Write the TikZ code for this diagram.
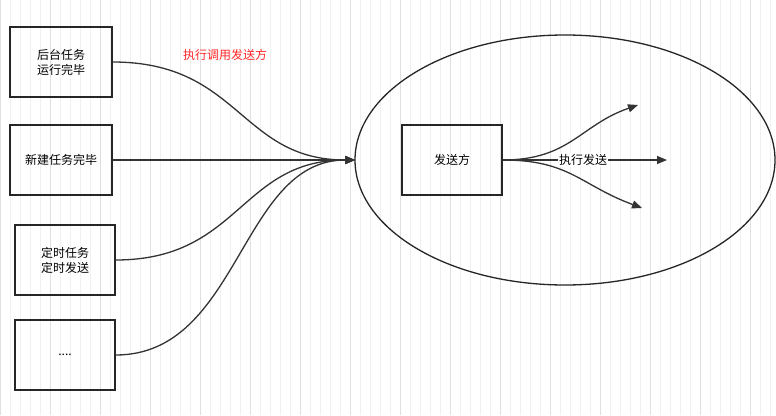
\documentclass[tikz,border=0pt]{standalone}
\usepackage{fontspec}
\setmainfont{Noto Sans CJK SC}
\usetikzlibrary{arrows.meta,shapes.geometric}
\begin{document}
\begin{tikzpicture}[x=1pt,y=-1pt,
  box/.style={draw=black!85,line width=1.3pt,minimum width=102pt,minimum height=70pt,font=\fontsize{12}{15}\selectfont,align=center,inner sep=0pt},
  con/.style={draw=black!80,line width=1.3pt,-{Triangle[length=10pt,width=8pt]}}]
\useasboundingbox (0,0) rectangle (776,415);
\fill[white] (0,0) rectangle (776,415);
\draw[black!6,line width=0.5pt] (0,0) grid[step=10] (776,415);
\draw[black!12,line width=0.5pt] (0,0) grid[step=50] (776,415);
\node[draw=black!85,line width=1.3pt,ellipse,minimum width=420pt,minimum height=250pt,inner sep=0pt] (ell) at (565,160) {};
\node[box] (b1) at (61,62) {后台任务\\运行完毕};
\node[box] (b2) at (61,160) {新建任务完毕};
\node[box,minimum width=100pt] (b3) at (65,260) {定时任务\\定时发送};
\node[box,minimum width=100pt] (b4) at (65,355) {....};
\node[box,minimum width=100pt] (s) at (452,160) {发送方};
\coordinate (in) at (355,160);
\draw[con] (b1.east) .. controls (240,62) and (240,160) .. (in);
\draw[con] (b2.east) -- (in);
\draw[con] (b3.east) .. controls (240,260) and (240,160) .. (in);
\draw[con] (b4.east) .. controls (240,355) and (240,160) .. (in);
\node[text=red!85,font=\fontsize{12}{15}\selectfont] (lab) at (225,55) {执行调用发送方};
\coordinate (t1) at (638,105);
\coordinate (t2) at (667,160);
\coordinate (t3) at (642,208);
\draw[con] (s.east) .. controls (570,160) and (580,125) .. (t1);
\draw[con] (s.east) -- (t2) node[pos=0.49,fill=white,inner sep=1pt,font=\fontsize{12}{15}\selectfont] (lb) {执行发送};
\draw[con] (s.east) .. controls (570,160) and (580,185) .. (t3);
\end{tikzpicture}
\end{document}
